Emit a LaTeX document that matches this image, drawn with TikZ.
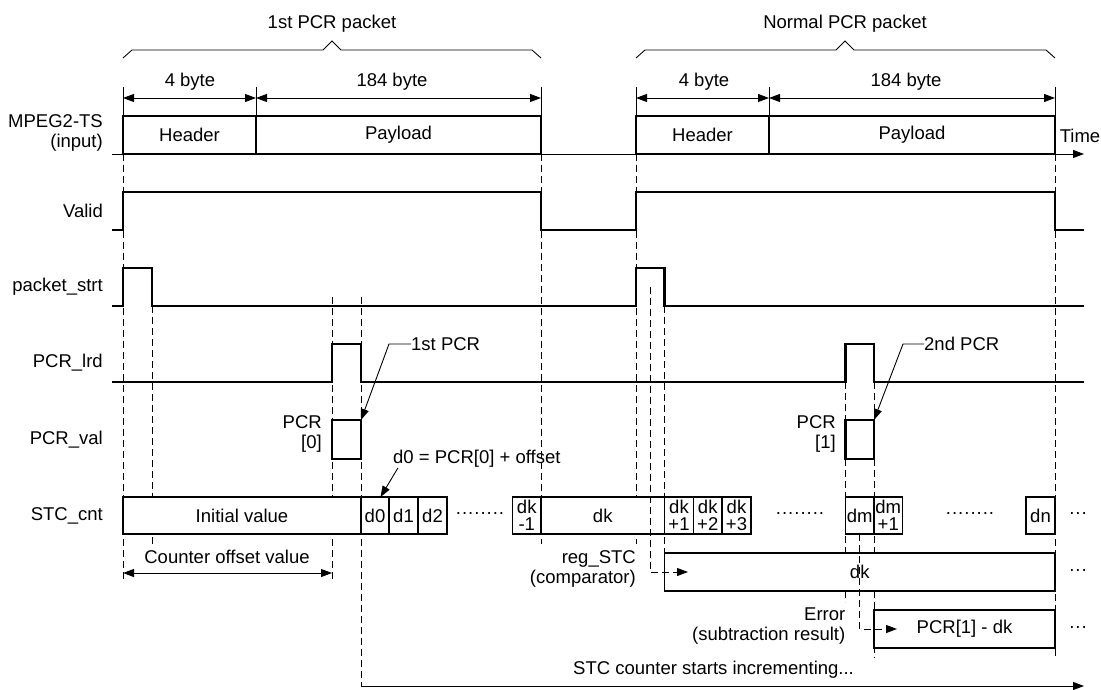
\documentclass[tikz,border=0pt]{standalone}
\usepackage{fontspec}
\setmainfont{Liberation Sans}
\usetikzlibrary{arrows.meta}
\newcommand\mybx[7]{%
  \pgfmathsetmacro\mybw{#5-#3}\pgfmathsetmacro\mybh{#6-#4}%
  \node[#1,minimum width=\mybw pt,minimum height=\mybh pt] (#2) at ({(#3+#5)/2},{(#4+#6)/2}) {#7};}
\begin{document}
\begin{tikzpicture}[x=1pt,y=-1pt,
  every node/.style={font=\fontsize{18.5}{20}\selectfont, inner sep=0pt},
  lbl/.style={anchor=east, align=right},
  box/.style={draw, line width=1.8pt, fill=white, outer sep=0pt, inner sep=0pt, align=center, font=\fontsize{18.5}{16.5}\selectfont},
  tbox/.style={box, line width=2.8pt},
  sig/.style={line width=2.8pt},
  thinl/.style={line width=0.9pt},
  dsh/.style={line width=0.9pt, dash pattern=on 7pt off 4pt},
  tip/.style={-{Triangle[length=11pt,width=8pt]}},
  dim/.style={line width=0.9pt, {Triangle[length=11pt,width=8pt]}-{Triangle[length=11pt,width=8pt]}}]
\useasboundingbox (0,0) rectangle (1101,690);
\fill[white] (0,0) rectangle (1101,690);

% dashed guide lines
\draw[dsh] (123,154) -- (123,582);
\draw[dsh] (152,306) -- (152,544);
\draw[dsh] (332,297) -- (332,582);
\draw[dsh] (361,297) -- (361,686);
\draw[dsh] (541,154) -- (541,544);
\draw[dsh] (636,154) -- (636,544);
\draw[dsh] (664.5,306) -- (664.5,553);
\draw[dsh] (845.5,382) -- (845.5,602);
\draw[dsh] (874,382) -- (874,658);
\draw[dsh] (1055,154) -- (1055,658);

% packet braces and titles
\node (t1) at (332,24) {1st PCR packet};
\node (t2) at (845,24) {Normal PCR packet};
\draw[thinl] (123,58) -- (132,50) -- (323,50) -- (332,41) -- (341,50) -- (532,50) -- (541,58);
\draw[thinl] (636,58) -- (645,50) -- (836,50) -- (845,41) -- (854,50) -- (1046,50) -- (1055,58);

% dimension arrows
\foreach \x in {123,256,541,636,769,1055} \draw[thinl] (\x,87) -- (\x,116);
\draw[dim] (123,98) -- (256,98);
\draw[dim] (256,98) -- (541,98);
\draw[dim] (636,98) -- (769,98);
\draw[dim] (769,98) -- (1055,98);
\node (b1) at (190,82) {4 byte};
\node (b2) at (392,82) {184 byte};
\node (b3) at (704,82) {4 byte};
\node (b4) at (906,82) {184 byte};

% time axis
\coordinate (ax0) at (112,154);
\coordinate (ax1) at (1084,154);
\draw[thinl,tip] (ax0) -- (ax1);
\node (time) at (1080,136) {Time};

% MPEG2-TS boxes
\mybx{box}{hd1}{123}{116}{256}{154}{Header}
\mybx{box}{pl1}{256}{116}{541}{154}{Payload}
\mybx{box}{hd2}{636}{116}{769}{154}{Header}
\mybx{box}{pl2}{769}{116}{1055}{154}{Payload}

% left labels
\node[lbl] (lmp) at (103,133) {MPEG2-TS\\(input)};
\node[lbl] (lva) at (103,211) {Valid};
\node[lbl] (lps) at (103,287) {packet\_strt};
\node[lbl] (lpl) at (103,363) {PCR\_lrd};
\node[lbl] (lpv) at (103,440) {PCR\_val};
\node[lbl] (lst) at (103,516) {STC\_cnt};

% signals
\draw[sig] (112,230) -- (123,230) -- (123,192) -- (541,192) -- (541,230) -- (636,230) -- (636,192) -- (1055,192) -- (1055,230) -- (1084,230);
\draw[sig] (112,306) -- (123,306) -- (123,268) -- (152,268) -- (152,306) -- (636,306) -- (636,268) -- (664.5,268) -- (664.5,306) -- (1084,306);
\draw[sig] (112,382) -- (332,382) -- (332,344) -- (361,344) -- (361,382) -- (845.5,382) -- (845.5,344) -- (874,344) -- (874,382) -- (1084,382);

% PCR_val
\mybx{tbox}{pv0}{332}{420}{361}{459}{}
\mybx{tbox}{pv1}{845.5}{420}{874}{459}{}
\node[lbl] (lpcr0) at (322,434) {PCR\\{[0]}};
\node[lbl] (lpcr1) at (836,434) {PCR\\{[1]}};
\node[anchor=west] (n1st) at (411,344) {1st PCR};
\node[anchor=west] (n2nd) at (924,344) {2nd PCR};
\coordinate (k1) at (389,344);
\coordinate (k2) at (903,344);
\draw[thinl,tip] (n1st.west) -- (k1) -- (pv0.north east);
\draw[thinl,tip] (n2nd.west) -- (k2) -- (pv1.north east);

% STC_cnt row
\mybx{box}{init}{123}{497}{361}{534}{Initial value}
\mybx{box}{d0}{361}{497}{389}{534}{d0}
\mybx{box}{d1}{389}{497}{418}{534}{d1}
\mybx{box}{d2}{418}{497}{447}{534}{d2}
\node (dots1) at (480,515) {········};
\mybx{box}{dkm}{512.5}{497}{541}{534}{dk\\-1}
\mybx{box}{dk}{541}{497}{664.5}{534}{dk}
\mybx{box}{dk1}{664.5}{497}{693.5}{534}{dk\\+1}
\mybx{box}{dk2}{693.5}{497}{722}{534}{dk\\+2}
\mybx{box}{dk3}{722}{497}{751}{534}{dk\\+3}
\node (dots2) at (800,515) {········};
\mybx{box}{dm}{845.5}{497}{874}{534}{dm}
\mybx{box}{dm1}{874}{497}{902.5}{534}{dm\\+1}
\node (dots3) at (970,515) {········};
\mybx{box}{dn}{1026}{497}{1055}{534}{dn}
\node (e1) at (1078,515) {···};

\node[anchor=west] (d0lbl) at (393,459) {d0 = PCR[0] + offset};
\draw[thinl,tip] ([xshift=5pt]d0lbl.south west) -- ([xshift=5.5pt]d0.north);

% counter offset
\draw[dim] (123,573) -- (332,573);
\node (cov) at (227,557) {Counter offset value};

% reg_STC
\mybx{box}{reg}{664.5}{553}{1055}{591}{dk}
\node[lbl] (lreg) at (636,569) {reg\_STC\\(comparator)};
\node (e2) at (1078,572) {···};
\coordinate (regtip) at (688,572);
\draw[dsh,tip] (650,287) |- (regtip);

% Error
\mybx{box}{err}{874}{610}{1055}{648}{PCR[1] - dk}
\node[lbl] (lerr) at (845.5,626) {Error\\(subtraction result)};
\node (e3) at (1078,629) {···};
\coordinate (errtip) at (897,629);
\draw[dsh,tip] (dm.south) |- (errtip);

% STC counter
\node[anchor=west] (stc) at (573,670) {STC counter starts incrementing...};
\coordinate (s0) at (361,686);
\coordinate (s1) at (1084,686);
\draw[thinl,tip] (s0) -- (s1);
\end{tikzpicture}
\end{document}
